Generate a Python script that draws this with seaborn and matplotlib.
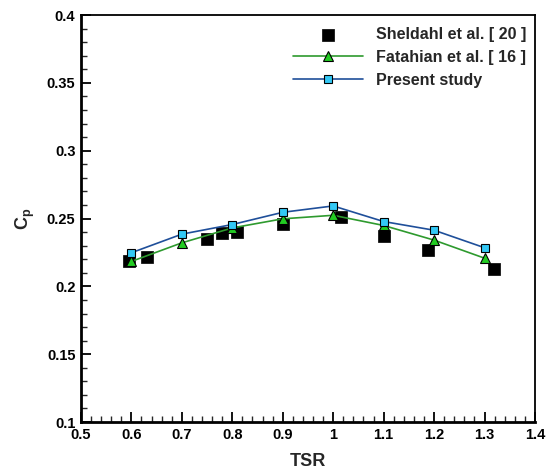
import pandas as pd
import matplotlib.pyplot as plt
from matplotlib.ticker import MultipleLocator
import seaborn as sns

# Sheldahl et al. [20] (experimental points)
sheldahl_tsr = [0.595, 0.631, 0.749, 0.78, 0.81, 0.90, 1.015, 1.10, 1.187, 1.318]
sheldahl_cp = [0.219, 0.222, 0.235, 0.2395, 0.2404, 0.246, 0.251, 0.237, 0.2265, 0.2125]

# Fatahian et al. [16]
fatahian_tsr = [0.6, 0.7, 0.8, 0.9, 1.0, 1.1, 1.2, 1.3]
fatahian_cp = [0.2184, 0.2321, 0.2431, 0.2498, 0.2524, 0.2449, 0.2341, 0.2208]

# Present study
present_tsr = [0.6, 0.7, 0.8, 0.9, 1.0, 1.1, 1.2, 1.3]
present_cp = [0.2248, 0.2385, 0.2456, 0.2546, 0.2593, 0.2478, 0.2414, 0.2285]

x_ticks = [0.5, 0.6, 0.7, 0.8, 0.9, 1.0, 1.1, 1.2, 1.3, 1.4]
x_tick_labels = ["0.5", "0.6", "0.7", "0.8", "0.9", "1", "1.1", "1.2", "1.3", "1.4"]
y_ticks = [0.1, 0.15, 0.2, 0.25, 0.3, 0.35, 0.4]
y_tick_labels = ["0.1", "0.15", "0.2", "0.25", "0.3", "0.35", "0.4"]

sheldahl = pd.DataFrame({"TSR": sheldahl_tsr, "Cp": sheldahl_cp})
fatahian = pd.DataFrame({"TSR": fatahian_tsr, "Cp": fatahian_cp})
present = pd.DataFrame({"TSR": present_tsr, "Cp": present_cp})

sns.set_theme(style="ticks")
plt.rcParams["font.family"] = ["Liberation Sans", "DejaVu Sans"]
plt.rcParams["font.weight"] = "bold"
plt.rcParams["mathtext.default"] = "regular"

fig = plt.figure(figsize=(5.47, 4.70), dpi=100)
ax = fig.add_axes([0.148, 0.102, 0.830, 0.866])

sns.scatterplot(data=sheldahl, x="TSR", y="Cp", ax=ax, marker="s", s=70,
                color="black", edgecolor="black", linewidth=0.5,
                label="Sheldahl et al. [ 20 ]", zorder=2)
sns.lineplot(data=fatahian, x="TSR", y="Cp", ax=ax, color="#2e9a2e", lw=1.2,
             marker="^", markersize=7, markerfacecolor="#22cc22",
             markeredgecolor="black", markeredgewidth=0.8,
             label="Fatahian et al. [ 16 ]", zorder=3)
sns.lineplot(data=present, x="TSR", y="Cp", ax=ax, color="#1f4f9a", lw=1.2,
             marker="s", markersize=5.5, markerfacecolor="#33c8f5",
             markeredgecolor="black", markeredgewidth=0.8,
             label="Present study", zorder=4)

ax.set_xlim(0.5, 1.4)
ax.set_ylim(0.1, 0.4)
ax.xaxis.set_minor_locator(MultipleLocator(0.02))
ax.yaxis.set_minor_locator(MultipleLocator(0.01))
ax.set_xticks(x_ticks)
ax.set_xticklabels(x_tick_labels)
ax.set_yticks(y_ticks)
ax.set_yticklabels(y_tick_labels)

ax.tick_params(which="major", direction="in", length=7, width=1.3,
               labelsize=10.5, pad=4, colors="black")
ax.tick_params(which="minor", direction="in", length=4, width=1.0)
for lbl in ax.get_xticklabels() + ax.get_yticklabels():
    lbl.set_fontweight("bold")

for side in ["left", "bottom"]:
    ax.spines[side].set_linewidth(2.0)
for side in ["top", "right"]:
    ax.spines[side].set_linewidth(1.3)
for sp in ax.spines.values():
    sp.set_color("black")

ax.set_xlabel("TSR", fontsize=13, fontweight="bold", labelpad=8)
ax.set_ylabel("C$_p$", fontsize=13, fontweight="bold", labelpad=7)

leg = ax.legend(loc="upper right", bbox_to_anchor=(1.012, 1.006), frameon=False,
                prop={"weight": "bold", "size": 11.5}, handlelength=4.4,
                labelspacing=0.5, handletextpad=0.8)

fig.savefig("out.png", dpi=100)
